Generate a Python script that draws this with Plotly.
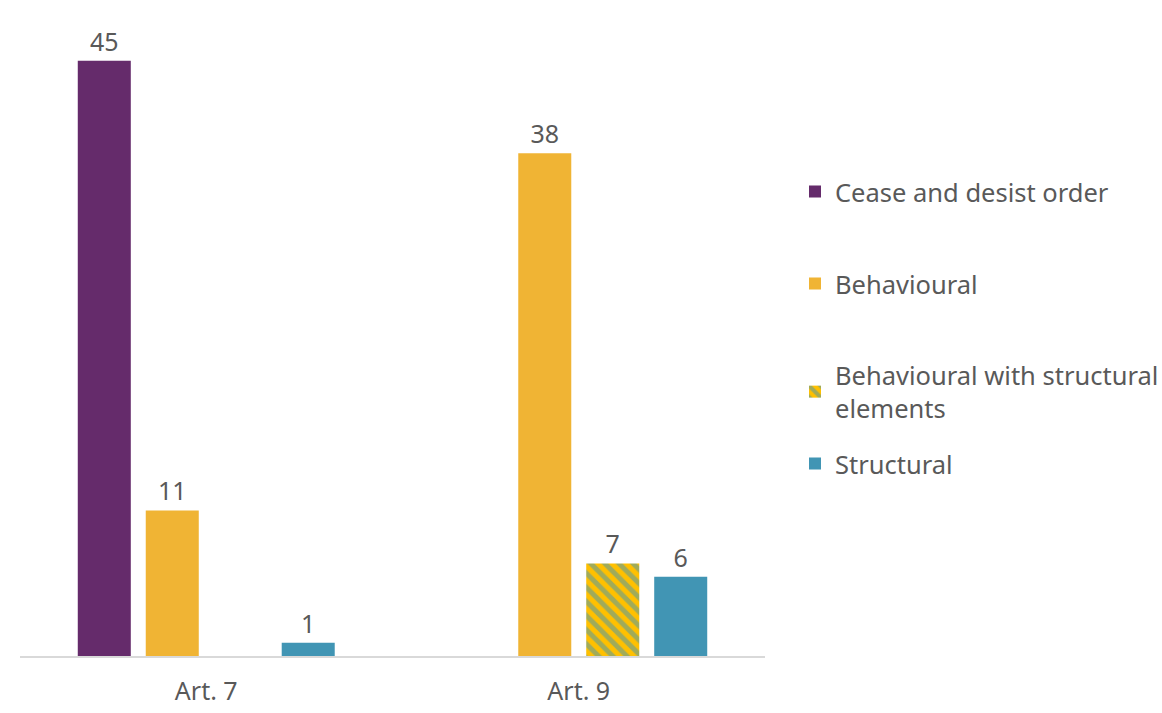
import plotly.graph_objects as go

categories = ["Art. 7", "Art. 9"]
series_names = ["Cease and desist order", "Behavioural",
                "Behavioural with structural<br>elements", "Structural"]
cease = [45, 0]
behavioural = [11, 38]
behav_struct = [0, 7]
structural = [1, 6]

colors = ["#652B6B", "#F0B434", "#FFC000", "#4195B4"]
font_fam = "Noto Sans, Open Sans, sans-serif"
gray = "#595959"

def labels(vals):
    return [str(v) if v else "" for v in vals]

fig = go.Figure()
series = [cease, behavioural, behav_struct, structural]
legend_ids = ["legend", "legend2", "legend3", "legend4"]
for i, (name, vals) in enumerate(zip(series_names, series)):
    marker = dict(color=colors[i], line=dict(width=0))
    if i == 2:
        marker = dict(color="#FFC000", line=dict(width=0),
                      pattern=dict(shape="\\", fgcolor="#4195B4", bgcolor="#FFC000",
                                   size=10, solidity=0.5, fillmode="overlay"))
    fig.add_trace(go.Bar(
        x=categories, y=vals, name=name, marker=marker,
        text=labels(vals), textposition="outside", cliponaxis=False,
        textfont=dict(size=25, color=gray, family=font_fam),
        legend=legend_ids[i],
    ))

plot_left, plot_right = 20, 765
plot_top, plot_bot = 21, 656
h = plot_bot - plot_top
w = plot_right - plot_left
def py(p):
    return (plot_bot - p) / h

leg_common = dict(font=dict(size=25.5, color=gray, family=font_fam),
                  bgcolor="rgba(0,0,0,0)", x=(795 - plot_left) / w,
                  xanchor="left", yanchor="middle")
legend_centers = [192, 284, 392, 464]
layout_legends = {}
for lid, c in zip(legend_ids, legend_centers):
    layout_legends[lid] = dict(leg_common, y=py(c))

fig.update_layout(
    width=1162, height=713,
    margin=dict(l=plot_left, r=1162 - plot_right, t=plot_top, b=713 - plot_bot,
                autoexpand=False),
    plot_bgcolor="white", paper_bgcolor="white",
    barmode="group", bargap=0.27, bargroupgap=0.22,
    showlegend=True,
    xaxis=dict(showline=True, linecolor="#D9D9D9", linewidth=2,
               ticks="outside", ticklen=12, tickcolor="rgba(0,0,0,0)",
               tickfont=dict(size=25, color=gray, family=font_fam), showgrid=False),
    yaxis=dict(range=[0, 48], visible=False, showgrid=False),
    **layout_legends,
)

fig.write_html("out.html")
